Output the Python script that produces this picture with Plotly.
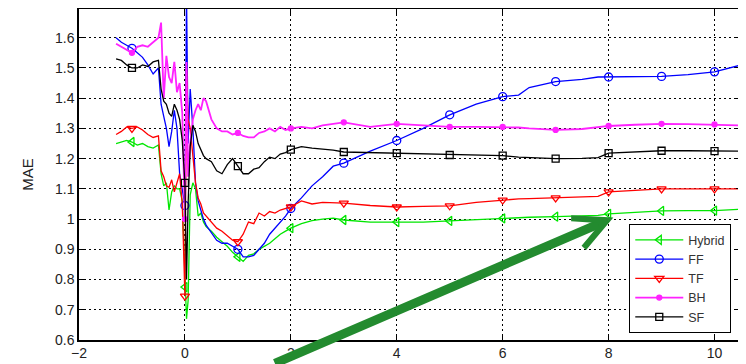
import plotly.graph_objects as go

# ---------------- data ----------------
X = [-1.3, -1.2, -1.1, -1.0, -0.9, -0.8, -0.7, -0.6, -0.5, -0.45, -0.4, -0.35, -0.3, -0.25,
     -0.2, -0.15, -0.1, -0.05, 0.0, 0.03, 0.06, 0.1, 0.15, 0.2, 0.25, 0.3, 0.35, 0.4, 0.5,
     0.6, 0.7, 0.8, 0.9, 1.0, 1.1, 1.2, 1.3, 1.4, 1.5, 1.6, 1.7, 1.8, 1.9, 2.0, 2.2, 2.4,
     2.6, 2.8, 3.0, 3.5, 4.0, 4.5, 5.0, 5.5, 6.0, 6.3, 6.5, 7.0, 7.5, 7.8, 8.0, 8.5, 9.0,
     9.5, 10.0, 10.5]

hybrid = [1.25, 1.255, 1.26, 1.255, 1.245, 1.25, 1.24, 1.235, 1.245, 1.15, 1.11, 1.12, 1.03, 1.09,
          1.11, 1.10, 1.10, 1.06, 0.775, 0.67, 0.73, 1.08, 1.12, 1.10, 1.01, 1.02, 0.99, 0.975, 0.96,
          0.94, 0.925, 0.91, 0.89, 0.875, 0.86, 0.88, 0.885, 0.90, 0.91, 0.92, 0.935, 0.95, 0.96, 0.97,
          0.985, 0.995, 1.0, 1.003, 0.997, 0.99, 0.99, 0.99, 0.994, 0.998, 1.002, 1.005, 1.006, 1.008,
          1.01, 1.012, 1.017, 1.022, 1.027, 1.028, 1.028, 1.033]

ff = [1.60, 1.585, 1.575, 1.565, 1.55, 1.535, 1.51, 1.48, 1.50, 1.38, 1.34, 1.30, 1.24, 1.29,
      1.36, 1.30, 1.15, 1.10, 1.045, 1.75, 1.25, 1.43, 1.30, 1.12, 1.06, 1.03, 1.0, 0.98, 0.955,
      0.93, 0.92, 0.92, 0.91, 0.90, 0.875, 0.875, 0.88, 0.90, 0.92, 0.95, 0.97, 0.99, 1.01, 1.035,
      1.07, 1.11, 1.14, 1.175, 1.185, 1.225, 1.26, 1.30, 1.345, 1.38, 1.405, 1.41, 1.435, 1.455,
      1.462, 1.47, 1.47, 1.47, 1.472, 1.478, 1.487, 1.51]

tf = [1.28, 1.29, 1.305, 1.30, 1.305, 1.295, 1.28, 1.27, 1.275, 1.16, 1.14, 1.11, 1.105, 1.13,
      1.09, 1.12, 1.15, 1.05, 0.745, 1.50, 1.33, 1.30, 1.20, 1.12, 1.07, 1.05, 1.02, 1.01, 0.99,
      0.97, 0.96, 0.945, 0.93, 0.925, 0.95, 0.99, 0.985, 1.02, 1.01, 1.025, 1.02, 1.03, 1.035, 1.04,
      1.06, 1.05, 1.055, 1.055, 1.053, 1.045, 1.04, 1.042, 1.044, 1.055, 1.063, 1.067, 1.068, 1.07,
      1.072, 1.075, 1.09, 1.095, 1.10, 1.10, 1.10, 1.10]

bh = [1.58, 1.57, 1.56, 1.55, 1.57, 1.575, 1.57, 1.585, 1.60, 1.65, 1.40, 1.54, 1.47, 1.45,
      1.52, 1.42, 1.45, 1.35, 1.0, 1.52, 1.14, 1.25, 1.33, 1.36, 1.38, 1.36, 1.40, 1.39, 1.33,
      1.30, 1.29, 1.29, 1.28, 1.285, 1.275, 1.27, 1.27, 1.285, 1.29, 1.30, 1.29, 1.305, 1.295, 1.30,
      1.305, 1.30, 1.31, 1.315, 1.32, 1.305, 1.315, 1.31, 1.305, 1.305, 1.305, 1.303, 1.30, 1.295,
      1.298, 1.303, 1.308, 1.312, 1.315, 1.314, 1.313, 1.31]

sf = [1.53, 1.525, 1.51, 1.50, 1.50, 1.51, 1.505, 1.52, 1.525, 1.43, 1.39, 1.38, 1.35, 1.34,
      1.38, 1.36, 1.33, 1.26, 1.12, 0.80, 1.05, 1.24, 1.31, 1.29, 1.25, 1.23, 1.21, 1.20, 1.19,
      1.16, 1.15, 1.18, 1.20, 1.175, 1.15, 1.15, 1.165, 1.17, 1.19, 1.205, 1.20, 1.215, 1.22, 1.23,
      1.24, 1.235, 1.232, 1.228, 1.222, 1.22, 1.218, 1.215, 1.212, 1.21, 1.21, 1.205, 1.203, 1.20,
      1.201, 1.203, 1.218, 1.222, 1.226, 1.226, 1.225, 1.225]

MARK_X = [-1, 0, 1, 2, 3, 4, 5, 6, 7, 8, 9, 10]
X_TICKS = [-2, 0, 2, 4, 6, 8, 10]
Y_TICKS = [0.6, 0.7, 0.8, 0.9, 1.0, 1.1, 1.2, 1.3, 1.4, 1.5, 1.6]
Y_LABELS = ["0.6", "0.7", "0.8", "0.9", "1", "1.1", "1.2", "1.3", "1.4", "1.5", "1.6"]

series = [
    ("Hybrid", hybrid, "#00e600", "triangle-left-open", 8, 1.3),
    ("FF", ff, "#0000ff", "circle-open", 8, 1.3),
    ("TF", tf, "#ff0000", "triangle-down-open", 8, 1.3),
    ("BH", bh, "#ff22ff", "circle", 5, 1.8),
    ("SF", sf, "#000000", "square-open", 7, 1.3),
]

fig = go.Figure()
idx = [i for i, v in enumerate(X) if any(abs(v - m) < 1e-9 for m in MARK_X)]
for name, ys, col, sym, ms, lw in series:
    fig.add_trace(go.Scatter(x=X, y=ys, mode="lines", line=dict(color=col, width=lw),
                             showlegend=False, legendgroup=name, hoverinfo="skip"))
    fig.add_trace(go.Scatter(x=[X[i] for i in idx], y=[ys[i] for i in idx], mode="markers",
                             marker=dict(symbol=sym, size=ms, color=col, line=dict(color=col, width=1.3)),
                             showlegend=False, legendgroup=name))
for name, ys, col, sym, ms, lw in series:
    fig.add_trace(go.Scatter(x=[None], y=[None], mode="lines+markers", name=name, legendgroup=name,
                             line=dict(color=col, width=lw),
                             marker=dict(symbol=sym, size=ms, color=col, line=dict(color=col, width=1.3))))

FAM = "Liberation Sans, Arial, sans-serif"
font = dict(family=FAM, size=14, color="#222222")
axis_common = dict(showline=True, linecolor="black", linewidth=1.5, mirror="ticks",
                   ticks="inside", ticklen=5, tickcolor="black", showgrid=True,
                   gridcolor="black", gridwidth=1, griddash="2px,3px", zeroline=False,
                   tickfont=font, automargin=False)
fig.update_xaxes(range=[-2, 10.5], tickvals=X_TICKS, ticklabelstandoff=-1, **axis_common)
fig.update_yaxes(range=[0.6, 1.695], tickvals=Y_TICKS, ticktext=Y_LABELS,
                 title=dict(text="MAE", font=dict(family=FAM, size=15, color="#222222"), standoff=18),
                 **axis_common)

fig.add_annotation(x=8.09, y=1.005, xref="x", yref="y", text="", showarrow=True,
                   ax=-340, ay=163, axref="pixel", ayref="pixel",
                   arrowhead=5, arrowsize=0.7, arrowwidth=9, arrowcolor="#238b2f", standoff=0)

# page body has an 8px margin: the figure is sized/offset to land on the reference pixels
fig.update_layout(
    width=738, height=356,
    margin=dict(l=71, r=5, t=1, b=24, autoexpand=False),
    paper_bgcolor="white", plot_bgcolor="white",
    font=font,
    legend=dict(x=0.985, y=0.021, xanchor="right", yanchor="bottom",
                bgcolor="white", bordercolor="black", borderwidth=1.2,
                font=dict(family=FAM, size=12.5, color="#333333"),
                tracegroupgap=0, itemwidth=48),
    showlegend=True,
)

fig.write_html("out.html")
